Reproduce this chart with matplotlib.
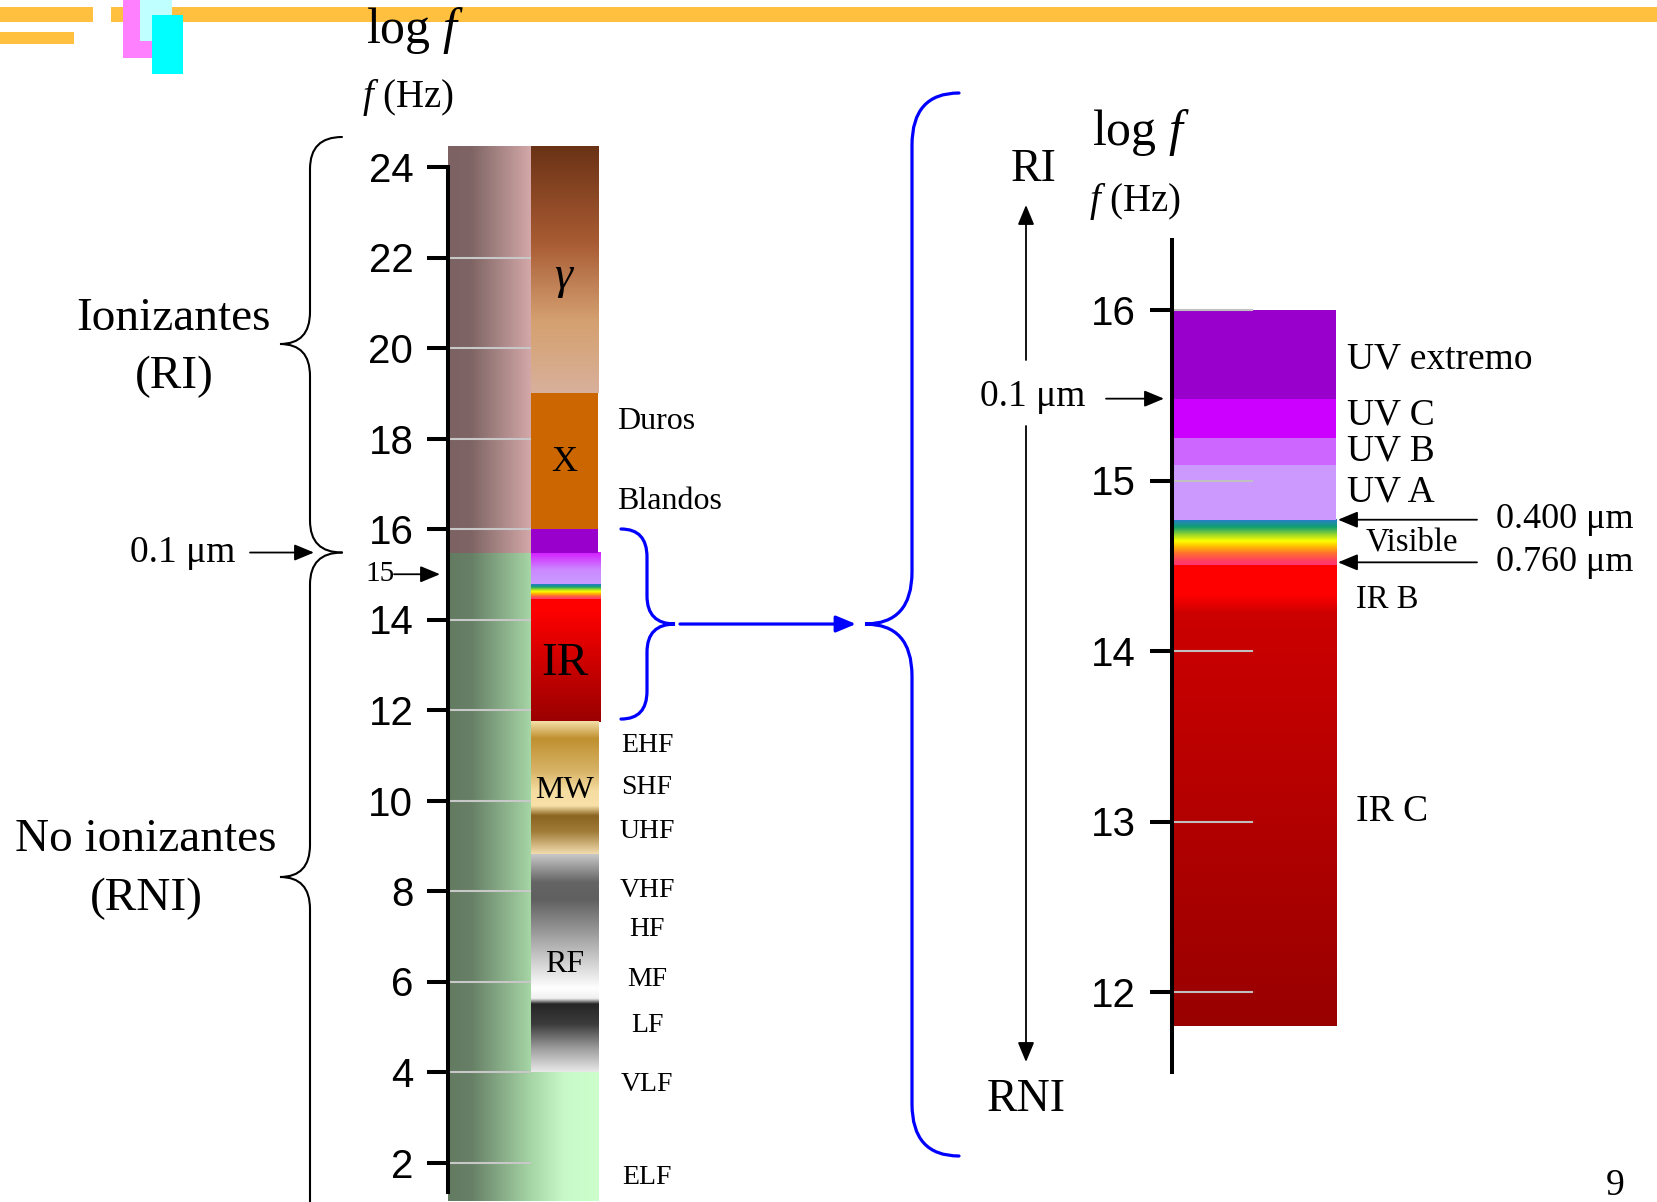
import numpy as np
import matplotlib
matplotlib.use("Agg")
import matplotlib.pyplot as plt
from matplotlib.path import Path
from matplotlib.patches import PathPatch, Rectangle
from matplotlib.colors import to_rgb

plt.rcParams["mathtext.fontset"] = "custom"
plt.rcParams["mathtext.rm"] = "Liberation Serif"
plt.rcParams["mathtext.it"] = "Liberation Serif:italic"

SERIF = "Liberation Serif"
SANS = "Liberation Sans"

# ---------------- data (log10 f, Hz) ----------------
left_ticks = [2, 4, 6, 8, 10, 12, 14, 16, 18, 20, 22, 24]
left_top, left_bottom = 24.46, 1.14
ion_limit = 15.48          # 0.1 um

gamma_band = (19.0, 24.46)
xray_band = (16.0, 19.0)
euv_band = (15.48, 16.0)
uv_band = (14.78, 15.48)
vis_band = (14.43, 14.78)
ir_band = (11.73, 14.43)
mw_band = (8.81, 11.73)
rf_band = (4.0, 8.81)

gamma_stops = [(19.0, "#d8b09c"), (20.0, "#d6a67e"), (20.6, "#d4a070"),
               (21.5, "#bd7c52"), (22.3, "#a95c33"), (23.3, "#8c4825"),
               (24.46, "#693215")]
uv_stops = [(14.78, "#c89cff"), (15.1, "#cc88ff"), (15.48, "#d41cff")]
ir_stops = [(11.73, "#990000"), (13.0, "#cc0000"), (14.2, "#ff0000"), (14.43, "#ff0000")]
mw_stops = [(8.81, "#f2dcae"), (9.3, "#a07c38"), (9.65, "#8a6420"), (9.87, "#f8e0a8"),
            (10.2, "#f5dca0"), (10.62, "#d8b468"), (11.35, "#c09030"), (11.73, "#f5e0a8")]
rf_stops = [(4.0, "#e8e8e8"), (4.5, "#a0a0a0"), (5.05, "#3c3c3c"), (5.5, "#262626"),
            (5.62, "#f0f0f0"), (5.85, "#ffffff"), (6.33, "#d8d8d8"), (7.08, "#9a9a9a"),
            (7.81, "#606060"), (8.19, "#646464"), (8.81, "#c8c8c8")]
# rainbow, fraction from the low-frequency edge
rainbow = [(0.0, "#ff3377"), (0.12, "#ff4060"), (0.27, "#ff7030"), (0.42, "#ffc000"),
           (0.53, "#ffff00"), (0.64, "#b0e020"), (0.83, "#10a070"), (1.0, "#2a7ad0")]

pink_stops = [(0.0, "#7c6262"), (0.15, "#7e6464"), (0.546, "#d4a8a8")]
green_stops = [(0.0, "#637b61"), (0.15, "#667f66"), (0.546, "#a6d6a6"),
               (0.76, "#c8f8c8"), (0.99, "#ccffcc")]

band_labels = [r"$\gamma$", "X", "IR", "MW", "RF"]
band_label_v = [21.52, 17.48, 13.03, 10.22, 6.38]
band_label_size = [33, 26, 34, 23, 23]

xray_names = ["Duros", "Blandos"]
xray_name_v = [18.38, 16.61]
radio_names = ["EHF", "SHF", "UHF", "VHF", "HF", "MF", "LF", "VLF", "ELF"]
radio_name_v = [11.22, 10.29, 9.32, 8.01, 7.15, 6.05, 5.03, 3.72, 1.67]

# zoomed panel
zoom_range = (11.8, 16.0)
right_ticks = [12, 13, 14, 15, 16]
right_top, right_bottom = 16.41, 11.53
uv_names = ["UV extremo", "UV C", "UV B", "UV A"]
uv_lo = [15.48, 15.25, 15.09, 14.77]
uv_hi = [16.0, 15.48, 15.25, 15.09]
uv_colors = ["#9900cc", "#cc00ff", "#cc66ff", "#cc99ff"]
uv_name_v = [15.71, 15.38, 15.17, 14.93]
right_vis = (14.50, 14.77)
right_ir = (11.8, 14.50)
right_ir_stops = [(11.8, "#990000"), (14.22, "#cc0000"), (14.33, "#ff0000"), (14.50, "#ff0000")]
ir_names = ["IR B", "IR C"]
ir_name_v = [14.30, 13.06]
vis_edge_labels = ["0.400 μm", "0.760 μm"]
vis_edge_v = [14.77, 14.52]

# ---------------- layout helpers ----------------
W, H = 1658, 1202
L_Y2, L_PPU = 1162.5, 45.25
R_Y16, R_PPU = 310.0, 170.5


def yl(v):
    return L_Y2 - (v - 2) * L_PPU


def yr(v):
    return R_Y16 - (v - 16) * R_PPU


def interp_colors(vals, stops):
    sv = [s[0] for s in stops]
    cols = np.array([to_rgb(s[1]) for s in stops])
    return np.stack([np.interp(vals, sv, cols[:, k]) for k in range(3)], axis=-1)


def vgrad(ax, x0, x1, lo, hi, stops):
    vs = np.linspace(lo, hi, 400)
    img = interp_colors(vs, stops)[:, None, :]
    ax.imshow(img, extent=(x0, x1, lo, hi), origin="lower", aspect="auto",
              interpolation="bilinear", zorder=0)


def hgrad(ax, x0, x1, lo, hi, stops):
    xs = np.linspace(x0, x1, 300)
    img = interp_colors(xs, stops)[None, :, :]
    ax.imshow(img, extent=(x0, x1, lo, hi), origin="lower", aspect="auto",
              interpolation="bilinear", zorder=0)


def solid(ax, x0, x1, lo, hi, color):
    ax.add_patch(Rectangle((x0, lo), x1 - x0, hi - lo, color=color, lw=0, zorder=0.5))


def style_axis(ax, ticks, lo, hi, tlen):
    for s in ["top", "right", "bottom"]:
        ax.spines[s].set_visible(False)
    ax.spines["left"].set_linewidth(2.9)
    ax.spines["left"].set_zorder(3)
    ax.spines["left"].set_bounds(lo, hi)
    ax.set_xticks([])
    ax.set_yticks(ticks)
    ax.tick_params(axis="y", direction="out", length=tlen, width=2.9, pad=10,
                   labelsize=29)
    for lab in ax.get_yticklabels():
        lab.set_fontfamily(SANS)
    ax.patch.set_alpha(0)


fig = plt.figure(figsize=(W / 100, H / 100), dpi=100)

# ---------------- left spectrum ----------------
axL = fig.add_axes([448 / W, 1 - yl(left_bottom) / H, 152 / W,
                    (yl(left_bottom) - yl(left_top)) / H])
c0, c1, c2 = 0.0, 0.546, 0.987
hgrad(axL, c0, 0.99, left_bottom, ion_limit, green_stops)
hgrad(axL, c0, c1, ion_limit, left_top, pink_stops)
vgrad(axL, c1, c2, gamma_band[0], gamma_band[1], gamma_stops)
solid(axL, c1, c2, xray_band[0], xray_band[1], "#cc6600")
solid(axL, c1, c2, euv_band[0], euv_band[1], "#9900cc")
vgrad(axL, c1, 1.0, uv_band[0], uv_band[1], uv_stops)
vis_stops_l = [(vis_band[0] + f * (vis_band[1] - vis_band[0]), c) for f, c in rainbow]
vgrad(axL, c1, 1.0, vis_band[0], vis_band[1], vis_stops_l)
vgrad(axL, c1, 1.0, ir_band[0], ir_band[1], ir_stops)
vgrad(axL, c1, c2, mw_band[0], mw_band[1], mw_stops)
vgrad(axL, c1, c2, rf_band[0], rf_band[1], rf_stops)
for t in left_ticks[:-1]:
    axL.plot([0, 0.54], [t, t], color="#c8c8c8", lw=1.5, zorder=1)
axL.set_xlim(0, 1)
axL.set_ylim(left_bottom, left_top)
style_axis(axL, left_ticks, 1.34, 24, 15)
for name, v, fs in zip(band_labels, band_label_v, band_label_size):
    axL.text((c1 + c2) / 2, v, name, ha="center", va="center", fontsize=fs,
             family=SERIF, zorder=4)

# ---------------- right (zoomed) spectrum ----------------
axR = fig.add_axes([1172 / W, 1 - yr(right_bottom) / H, 164 / W,
                    (yr(right_bottom) - yr(right_top)) / H])
for lo, hi, col in zip(uv_lo, uv_hi, uv_colors):
    solid(axR, 0.01, 1.0, lo, hi, col)
vis_stops_r = [(right_vis[0] + f * (right_vis[1] - right_vis[0]), c) for f, c in rainbow]
vgrad(axR, 0.01, 1.0, right_vis[0], right_vis[1], vis_stops_r)
vgrad(axR, 0.01, 1.0, right_ir[0], right_ir[1], right_ir_stops)
for t in right_ticks:
    axR.plot([0, 0.49], [t, t], color="#c0c0c0", lw=1.5, zorder=1)
axR.set_xlim(0, 1)
axR.set_ylim(right_bottom, right_top)
style_axis(axR, right_ticks, right_bottom, right_top, 16)

# ---------------- overlay: decoration, braces, labels ----------------
axO = fig.add_axes([0, 0, 1, 1])
axO.set_xlim(0, W)
axO.set_ylim(H, 0)
axO.axis("off")
axO.patch.set_alpha(0)
axO.set_zorder(5)

# header decoration
for x, y, w, h, col in [(111, 7, W, 15, "#ffc040"), (0, 7, 93, 15, "#ffc040"),
                        (0, 32, 74, 12, "#ffc040"), (123, 0, 30, 58, "#ff80ff"),
                        (140, 0, 32, 41, "#c0ffff"), (152, 15, 31, 59, "#00ffff")]:
    axO.add_patch(Rectangle((x, y), w, h, color=col, lw=0))


def brace(x_end, x_stem, x_tip, y0, ymid, y1, r, **kw):
    verts = [(x_end, y0), (x_stem, y0), (x_stem, y0 + r),
             (x_stem, ymid - r),
             (x_stem, ymid), (x_tip, ymid),
             (x_stem, ymid), (x_stem, ymid + r),
             (x_stem, y1 - r),
             (x_stem, y1), (x_end, y1)]
    codes = [Path.MOVETO, Path.CURVE3, Path.CURVE3, Path.LINETO,
             Path.CURVE3, Path.CURVE3, Path.CURVE3, Path.CURVE3,
             Path.LINETO, Path.CURVE3, Path.CURVE3]
    axO.add_patch(PathPatch(Path(verts, codes), fill=False, capstyle="round", **kw))


def arrow(x0, y0, x1, y1, color="k", lw=1.3, hl=0.6, hw=0.25):
    axO.annotate("", xy=(x1, y1), xytext=(x0, y0),
                 arrowprops=dict(arrowstyle=f"-|>,head_length={hl},head_width={hw}",
                                 color=color, lw=lw, shrinkA=0, shrinkB=0,
                                 mutation_scale=20))


def txt(x, y, s, fs, ha="left", **kw):
    axO.text(x, y, s, fontsize=fs, ha=ha, va="center", family=SERIF, **kw)


# left side
brace(342, 310, 280, 137, 344, yl(ion_limit), 32, color="k", lw=1.5)
brace(342, 310, 280, yl(ion_limit), 877, 1235, 32, color="k", lw=1.5)
txt(174, 319, "Ionizantes", 34, ha="center")
txt(174, 377, "(RI)", 34, ha="center")
txt(146, 840, "No ionizantes", 34, ha="center")
txt(146, 899, "(RNI)", 34, ha="center")
txt(130, yl(ion_limit), "0.1 μm", 27)
arrow(250, yl(ion_limit), 314, yl(ion_limit))
txt(365, yl(15), "15", 21)
arrow(394, yl(15), 440, yl(15))
txt(366, 30, r"log $f$", 36)
txt(362, 97, r"$f$ (Hz)", 28)
for name, v in zip(xray_names, xray_name_v):
    txt(617, yl(v), name, 23)
for name, v in zip(radio_names, radio_name_v):
    txt(647, yl(v), name, 20, ha="center")

# zoom connector
zmid = (yl(zoom_range[0]) + yl(zoom_range[1])) / 2
brace(621, 647, 675, yl(zoom_range[1]), zmid, yl(zoom_range[0]), 28, color="#0000ff", lw=2.3)
arrow(680, zmid, 856, zmid, color="#0000ff", lw=2.3, hl=0.6, hw=0.25)
brace(959, 912, 865, 93, zmid, 1156, 52, color="#0000ff", lw=2.3)

# right side
txt(1034, 170, "RI", 33, ha="center")
txt(1026, 1100, "RNI", 33, ha="center")
arrow(1026, 360, 1026, 205)
arrow(1026, 426, 1026, 1062)
txt(1033, yr(ion_limit) - 2, "0.1 μm", 27, ha="center")
arrow(1106, yr(ion_limit), 1164, yr(ion_limit))
txt(1092, 133, r"log $f$", 36)
txt(1089, 201, r"$f$ (Hz)", 28)
for name, v in zip(uv_names, uv_name_v):
    txt(1347, yr(v), name, 27)
txt(1412, yr((right_vis[0] + right_vis[1]) / 2), "Visible", 23.5, ha="center")
for name, v, fs in zip(ir_names, ir_name_v, [23.5, 27]):
    txt(1356, yr(v), name, fs)
for lab, v in zip(vis_edge_labels, vis_edge_v):
    txt(1496, yr(v), lab, 26)
    arrow(1477, yr(v), 1338, yr(v))
txt(1615, 1186, "9", 27, ha="center")

fig.savefig("out.png", dpi=100)
